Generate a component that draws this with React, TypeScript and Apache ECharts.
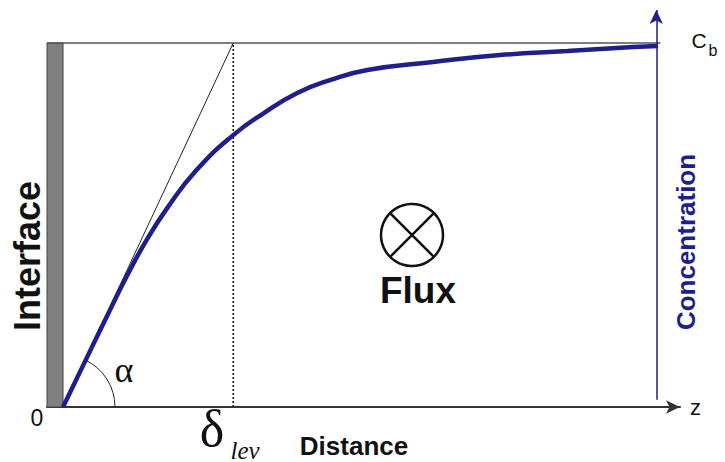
import React, { useEffect, useRef } from "react";
import * as echarts from "echarts";

// Concentration profile (distance in arbitrary units, C / Cb)
const distance = [0, 0.4, 0.79, 1.07, 1.41, 1.75, 2.25, 2.87, 3.38, 3.94, 4.5, 5.13, 6.24, 7.37, 8.5, 9.61, 10.03];
const concentration = [0, 0.135, 0.266, 0.358, 0.459, 0.545, 0.651, 0.747, 0.807, 0.862, 0.898, 0.926, 0.948, 0.967, 0.978, 0.989, 0.992];
const deltaLev = 2.87; // boundary-layer thickness (tangent reaches Cb here)
const xMin = -0.27;
const xMax = 10.4;
const yMax = 1.0907;
const zEnd = 10; // position of the concentration axis

const NAVY = "#1f1f8c";
const SANS = "Liberation Sans";
const SERIF = "Liberation Serif";

function txt(x: number, y: number, text: string, size: number, opts: any = {}) {
  return {
    type: "text",
    x,
    y,
    rotation: opts.rotation || 0,
    style: {
      text,
      fontSize: size,
      fontFamily: opts.family || SANS,
      fontWeight: opts.weight || "normal",
      fontStyle: opts.style || "normal",
      fill: opts.color || "#111",
      align: "center",
      verticalAlign: "middle",
    },
  };
}

export default function App() {
  const ref = useRef<HTMLDivElement>(null);
  useEffect(() => {
    if (!ref.current) return;
    const chart = echarts.init(ref.current, undefined, { renderer: "svg" });
    const curve = distance.map((d, i) => [d, concentration[i]]);
    chart.setOption({
      animation: false,
      backgroundColor: "#ffffff",
      grid: { left: 47, right: 45, top: 10, bottom: 55 },
      xAxis: {
        type: "value",
        min: xMin,
        max: xMax,
        name: "z",
        nameLocation: "end",
        nameGap: 10,
        nameTextStyle: { fontSize: 22, color: "#111", fontFamily: SANS, verticalAlign: "middle", padding: [4, 0, 0, 0] },
        axisLine: { show: true, onZero: false, symbol: ["none", "arrow"], symbolSize: [10, 14], lineStyle: { color: "#333", width: 2 } },
        axisTick: { show: false },
        axisLabel: { show: false },
        splitLine: { show: false },
      },
      yAxis: {
        type: "value",
        min: 0,
        max: yMax,
        axisLine: { show: false },
        axisTick: { show: false },
        axisLabel: { show: false },
        splitLine: { show: false },
      },
      series: [
        {
          type: "line",
          name: "top",
          data: [[xMin, 1], [zEnd + 0.07, 1]],
          symbol: "none",
          silent: true,
          lineStyle: { color: "#555", width: 1.5 },
          markArea: {
            silent: true,
            itemStyle: { color: "#808080", borderColor: "#444", borderWidth: 1 },
            data: [[{ coord: [xMin, 0] }, { coord: [0, 1] }]],
          },
          markLine: {
            silent: true,
            symbol: ["none", "arrow"],
            symbolSize: [10, 14],
            label: { show: false },
            lineStyle: { color: NAVY, width: 1.5, type: "solid" },
            data: [[{ coord: [zEnd, 0.02] }, { coord: [zEnd, yMax] }]],
          },
        },
        {
          type: "line",
          name: "tangent",
          data: [[0, 0], [deltaLev, 1]],
          symbol: "none",
          silent: true,
          lineStyle: { color: "#222", width: 1 },
        },
        {
          type: "line",
          name: "delta",
          data: [[deltaLev, 0], [deltaLev, 1]],
          symbol: "none",
          silent: true,
          lineStyle: { color: "#111", width: 1.6, type: [2, 2] },
        },
        {
          type: "line",
          name: "Concentration",
          data: curve,
          smooth: 0.5,
          symbol: "none",
          silent: true,
          lineStyle: { color: NAVY, width: 4.5 },
          z: 5,
        },
      ],
      graphic: [
        {
          type: "arc",
          shape: { cx: 63, cy: 407, r: 52, startAngle: -1.134, endAngle: 0, clockwise: true },
          style: { stroke: "#222", lineWidth: 1, fill: "none" },
        },
        txt(124, 370, "α", 36, { family: SERIF }),
        txt(37, 418, "0", 23),
        txt(212, 428, "δ", 52, { family: SERIF }),
        txt(245, 450, "lev", 25, { family: SERIF, style: "italic" }),
        txt(354, 446, "Distance", 26, { weight: "bold" }),
        txt(27, 256, "Interface", 36, { weight: "bold", rotation: Math.PI / 2 }),
        txt(686, 242, "Concentration", 26, { weight: "bold", rotation: Math.PI / 2, color: NAVY }),
        txt(699, 40, "C", 21),
        txt(713, 50, "b", 16),
        { type: "circle", shape: { cx: 412, cy: 235, r: 31 }, style: { stroke: "#111", lineWidth: 2.5, fill: "none" } },
        { type: "line", shape: { x1: 390.1, y1: 213.1, x2: 433.9, y2: 256.9 }, style: { stroke: "#111", lineWidth: 2.5 } },
        { type: "line", shape: { x1: 433.9, y1: 213.1, x2: 390.1, y2: 256.9 }, style: { stroke: "#111", lineWidth: 2.5 } },
        txt(418, 290, "Flux", 37, { weight: "bold" }),
      ],
    });
    return () => chart.dispose();
  }, []);
  return <div ref={ref} style={{ position: "absolute", left: 0, top: 0, width: 725, height: 462 }} />;
}
